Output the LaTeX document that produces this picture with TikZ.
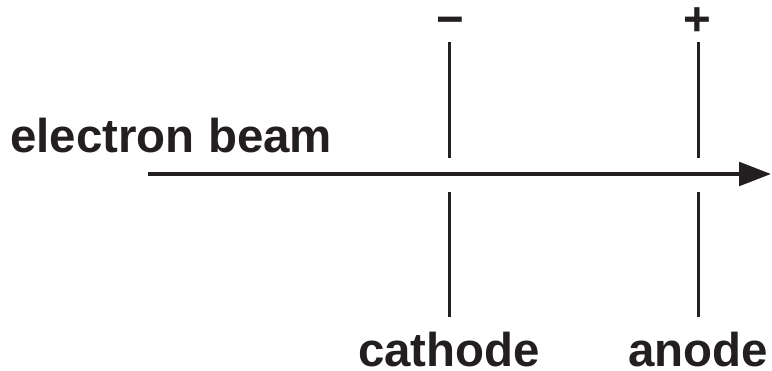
\documentclass[tikz,border=0pt]{standalone}
\usepackage{fontspec}
\setmainfont{Liberation Sans}
\usepackage{xcolor}
\usepackage{tikz}
\usetikzlibrary{arrows.meta}
\definecolor{tubeink}{RGB}{35,31,32}
\tikzset{
  tubepicture/.style={x=0.2mm, y=-0.2mm},
  tubelabel/.style={font=\fontsize{27}{32}\selectfont\bfseries, text=tubeink, inner sep=0pt, anchor=base},
  tubesign/.style={tubelabel},
  tubeplate/.style={line width=1.7pt, draw=tubeink},
  tubebeam/.style={-{Triangle[length=6.4mm, width=4.7mm]}, line width=2.3pt, draw=tubeink}
}

\begin{document}
\begin{tikzpicture}[tubepicture]
\useasboundingbox (0,0) rectangle (772,370);
\node[tubelabel, anchor=base west] (beamlabel) at (10,152) {electron beam};
\node[tubelabel] (cathodelabel) at (449,366) {cathode};
\node[tubelabel] (anodelabel) at (698,366) {anode};
\node[tubesign] (minus) at (450,36) {−};
\node[tubesign] (plus) at (697,36) {+};
\coordinate (beamstart) at (148,174);
\coordinate (beamend) at (771,174);
\coordinate (cathodetop) at (449,42);
\coordinate (cathodeupper) at (449,158);
\coordinate (cathodelower) at (449,192);
\coordinate (cathodebottom) at (449,317);
\coordinate (anodetop) at (698,42);
\coordinate (anodeupper) at (698,158);
\coordinate (anodelower) at (698,192);
\coordinate (anodebottom) at (698,317);
\draw[tubebeam] (beamstart) -- (beamend);
\draw[tubeplate] (cathodetop) -- (cathodeupper);
\draw[tubeplate] (cathodelower) -- (cathodebottom);
\draw[tubeplate] (anodetop) -- (anodeupper);
\draw[tubeplate] (anodelower) -- (anodebottom);
\end{tikzpicture}
\end{document}
